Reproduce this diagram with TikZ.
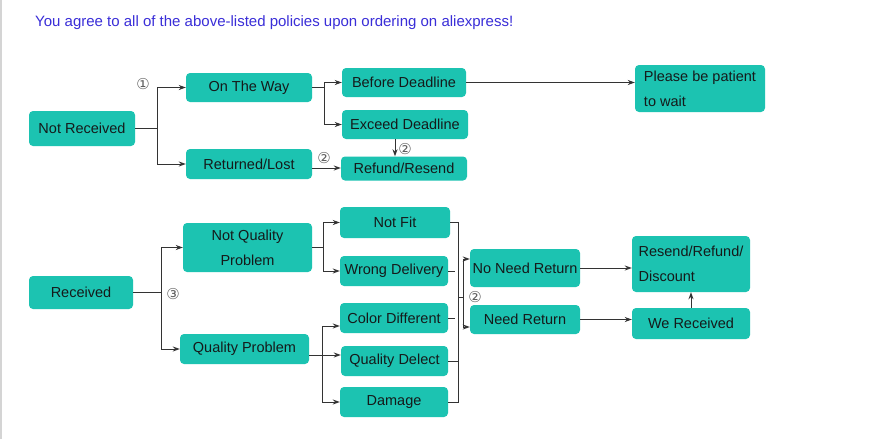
\documentclass[tikz,border=0pt]{standalone}
\usepackage{fontspec}
\setmainfont{Liberation Sans}
\newfontfamily\markfont{DejaVu Sans}
\usetikzlibrary{arrows.meta,calc}
\definecolor{FlowTeal}{HTML}{1CC3B1}
\definecolor{FlowInk}{HTML}{151A1A}
\definecolor{FlowBlue}{HTML}{3A2ED8}
\definecolor{FlowLine}{HTML}{333333}
\definecolor{FlowMark}{HTML}{5E5E5E}
\definecolor{FlowEdge}{HTML}{D4D4D4}
\tikzset{
  box/.style={fill=FlowTeal,text=FlowInk,rounded corners=4pt,inner sep=2pt,font=\fontsize{14.5}{25}\selectfont},
  link/.style={FlowLine,line width=1pt},
  arr/.style={link,-{Stealth[length=7pt,width=5pt]}},
  num/.style={text=FlowMark,font=\markfont\fontsize{15}{15}\selectfont,inner sep=0pt},
}

\begin{document}
\begin{tikzpicture}[x=1pt,y=-1pt]
\useasboundingbox[fill=white] (0,0) rectangle (892,439);
\draw[FlowEdge,line width=1.5pt] (0.8,0) -- (0.8,439);
\node[anchor=base west,inner sep=0pt,text=FlowBlue,font=\fontsize{15}{18}\selectfont] (title) at (35,26) {You agree to all of the above-listed policies upon ordering on aliexpress!};

% not received
\node[box,minimum width=106pt,minimum height=35pt] (nr) at (82,128.5) {Not Received};
\node[box,minimum width=126pt,minimum height=29pt] (way) at (249,87.5) {On The Way};
\node[box,minimum width=126pt,minimum height=30pt] (rl) at (249,164) {Returned/Lost};
\node[box,minimum width=124pt,minimum height=29pt] (bd) at (404,82.5) {Before Deadline};
\node[box,minimum width=126pt,minimum height=29pt] (ed) at (405,124.5) {Exceed Deadline};
\node[box,minimum width=126pt,minimum height=24pt] (rr) at (404,168.5) {Refund/Resend};
\node[box,minimum width=130pt,minimum height=47pt,align=left] (wait) at (700,88.5) {Please be patient\\to wait};

\coordinate (j1) at (157,128.5);
\coordinate (j2) at (324,87.5);
\draw[link] (nr.east) -- (j1);
\draw[arr] (j1) |- (way);
\draw[arr] (j1) |- (rl);
\draw[link] (way.east) -- (j2);
\draw[arr] (j2) |- (bd);
\draw[arr] (j2) |- (ed);
\draw[arr] (bd.east) -- (bd.east -| wait.west);
\draw[arr] ([xshift=-10pt]ed.south) -- ([xshift=-10pt]ed.south |- rr.north);
\draw[arr] ([yshift=-4pt]rl.east) -- ([yshift=-4pt]rl.east -| rr.west);
\node[num] (m1) at (143,84) {①};
\node[num] (m2) at (324,158) {②};
\node[num] (m3) at (405,149) {②};

% received
\node[box,minimum width=104pt,minimum height=33pt] (rec) at (81,292.5) {Received};
\node[box,minimum width=129pt,minimum height=49pt,align=center] (nqp) at (247.5,247.5) {Not Quality\\Problem};
\node[box,minimum width=129pt,minimum height=30pt] (qp) at (244.5,349) {Quality Problem};
\node[box,minimum width=110pt,minimum height=31pt] (fit) at (395,222.5) {Not Fit};
\node[box,minimum width=108pt,minimum height=30pt] (wd) at (394,271) {Wrong Delivery};
\node[box,minimum width=108pt,minimum height=30pt] (cd) at (394,318) {Color Different};
\node[box,minimum width=107pt,minimum height=30pt] (qd) at (394.5,361) {Quality Delect};
\node[box,minimum width=108pt,minimum height=30pt] (dmg) at (394,402) {Damage};
\node[box,minimum width=110pt,minimum height=38pt] (nnr) at (525,268) {No Need Return};
\node[box,minimum width=110pt,minimum height=29pt] (need) at (525,319.5) {Need Return};
\node[box,minimum width=118pt,minimum height=56pt,align=left] (rrd) at (691,264) {Resend/Refund/\\Discount};
\node[box,minimum width=118pt,minimum height=31pt] (we) at (691,323.5) {We Received};

\coordinate (j3) at (161,292.5);
\coordinate (j4) at (323,247.5);
\coordinate (j5) at (322,355);
\coordinate (ctop) at (458,222.5);
\coordinate (cbot) at (458,402);
\coordinate (j6) at (463,297);
\draw[link] (rec.east) -- (j3);
\draw[arr] (j3) |- (nqp);
\draw[arr] (j3) |- (qp);
\draw[link] (nqp.east) -- (j4);
\draw[arr] (j4) |- (fit);
\draw[arr] (j4) |- (wd);
\draw[link] ([yshift=-6pt]qp.east) -- (j5);
\draw[arr] (j5) |- ([yshift=-8pt]cd.west);
\draw[arr] (j5) -- (j5 -| qd.west);
\draw[arr] (j5) |- (dmg);
\draw[link] (fit.east) -- (ctop) -- (cbot) -- (dmg.east);
\draw[link] (wd.east) -- ++(7,0);
\draw[link] (cd.east) -- ++(7,0);
\draw[link] (qd.east) -- (qd.east -| ctop);
\draw[link] (ctop |- j6) -- (j6);
\draw[arr] (j6) |- ([yshift=9pt]nnr.west);
\draw[arr] (j6) |- ([yshift=-7.5pt]need.west);
\draw[arr] (nnr.east) -- (nnr.east -| rrd.west);
\draw[arr] (need.east) -- (need.east -| we.west);
\draw[arr] (we.north) -- (rrd.south);
\node[num] (m4) at (173,294) {③};
\node[num] (m5) at (475,297) {②};
\end{tikzpicture}
\end{document}
